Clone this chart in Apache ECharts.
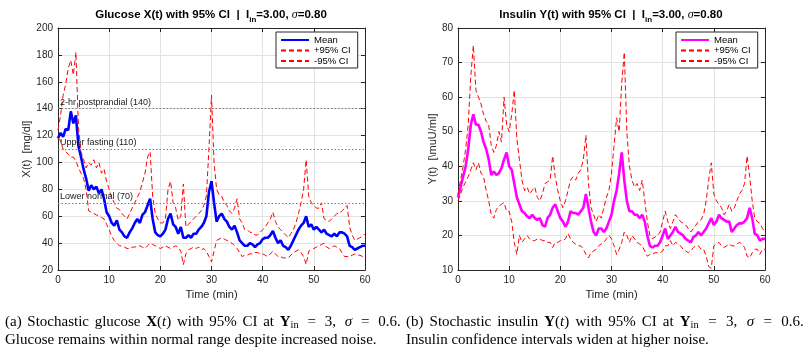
<!DOCTYPE html>
<html>
<head>
<meta charset="utf-8">
<script src="https://cdn.jsdelivr.net/npm/echarts@6/dist/echarts.min.js"></script>
<style>
html, body { margin: 0; padding: 0; background: #fff; }
#chart { width: 810px; height: 354px; }
</style>
</head>
<body>
<div id="chart"></div>
<script>
// sampling times (min)
var timeMin = [
  0, 0.5, 1, 1.5, 2, 2.5, 3, 3.5, 4, 4.5,
  5, 5.5, 6, 6.5, 7, 7.5, 8, 8.5, 9, 9.5,
  10, 10.5, 11, 11.5, 12, 12.5, 13, 13.5, 14, 14.5,
  15, 15.5, 16, 16.5, 17, 17.5, 18, 18.5, 19, 19.5,
  20, 20.5, 21, 21.5, 22, 22.5, 23, 23.5, 24, 24.5,
  25, 25.5, 26, 26.5, 27, 27.5, 28, 28.5, 29, 29.5,
  30, 30.5, 31, 31.5, 32, 32.5, 33, 33.5, 34, 34.5,
  35, 35.5, 36, 36.5, 37, 37.5, 38, 38.5, 39, 39.5,
  40, 40.5, 41, 41.5, 42, 42.5, 43, 43.5, 44, 44.5,
  45, 45.5, 46, 46.5, 47, 47.5, 48, 48.5, 49, 49.5,
  50, 50.5, 51, 51.5, 52, 52.5, 53, 53.5, 54, 54.5,
  55, 55.5, 56, 56.5, 57, 57.5, 58, 58.5, 59, 59.5,
  60
];

// glucose X(t) [mg/dl]
var glucoseMean = [
  118, 122, 119, 125, 124, 138, 129, 135, 112, 104,
  95, 88, 79, 83, 80, 82, 77, 80, 73, 63,
  60, 55, 53, 57, 50, 48, 45, 44, 48, 51,
  55, 58, 55, 61, 63, 68, 73, 58, 48, 46,
  45, 47, 50, 58, 62, 54, 52, 47, 52, 44,
  44, 46, 44, 47, 47, 50, 52, 55, 60, 78,
  86, 70, 56, 60, 62, 58, 56, 52, 50, 53,
  48, 42, 40, 38, 38, 40, 39, 37, 39, 40,
  43, 44, 44, 46, 49, 44, 40, 42, 38, 37,
  35, 38, 42, 46, 50, 53, 55, 60, 52, 54,
  50, 52, 50, 48, 50, 47, 46, 45, 47, 45,
  48, 48, 47, 45, 38, 37, 35, 36, 37, 38,
  38
];
var glucoseUpper = [
  124, 135, 150, 158, 170, 176, 165, 182, 126, 108,
  102, 96, 100, 98, 102, 96, 100, 92, 95, 86,
  80, 74, 70, 66, 65, 62, 60, 58, 62, 66,
  70, 74, 78, 85, 92, 104, 108, 75, 62, 58,
  55, 55, 58, 80, 86, 70, 66, 57, 60, 84,
  52, 54, 56, 58, 60, 62, 64, 68, 75, 110,
  150, 100, 80, 76, 75, 70, 68, 64, 62, 66,
  73, 58, 55, 50, 50, 48, 48, 46, 46, 48,
  50, 52, 55, 58, 63, 56, 52, 50, 48, 46,
  44, 47, 50, 55, 62, 70, 80, 102, 75, 70,
  68, 66, 66, 70, 58, 57, 56, 58, 60, 62,
  62, 64, 66, 68, 52, 46, 42, 43, 44, 45,
  47
];
var glucoseLower = [
  118, 116, 110, 108, 106, 104, 104, 101, 96, 92,
  88, 80, 64, 63, 62, 61, 60, 59, 58, 54,
  50, 45, 42, 40, 38, 38, 37, 36, 36, 37,
  37, 38, 38, 37, 36, 38, 40, 39, 38, 37,
  36, 37, 38, 37, 36, 37, 38, 37, 34, 24,
  32, 35, 36, 37, 36, 37, 35, 36, 34, 30,
  26, 34, 42, 43, 44, 43, 42, 41, 40, 38,
  36, 33, 30, 31, 31, 32, 32, 33, 33, 32,
  32, 31, 30, 32, 34, 32, 30, 30, 29, 29,
  29, 31, 33, 34, 35, 33, 30, 24, 34, 35,
  36, 37, 38, 39, 40, 37, 36, 37, 38, 37,
  36, 33, 30, 30, 30, 31, 32, 31, 31, 30,
  30
];

// insulin Y(t)
var insulinMean = [
  31, 34, 37, 40, 45, 52, 55, 52, 52, 50,
  47, 45, 42, 37.5, 38.5, 37.5, 38, 39.5, 42, 44,
  40, 39, 35, 31, 29, 27, 26.5, 25.5, 25, 26,
  25, 24.5, 25, 23, 22.5, 25, 26, 28, 29, 27,
  25, 24, 22.5, 24, 27, 26.5, 26.5, 26, 27, 28,
  32, 28, 24, 21, 20, 22, 22, 21, 22, 24,
  26, 30, 33, 38, 44, 36, 30, 27, 27, 26,
  26, 25, 26, 24, 20, 17, 16.5, 17, 17, 18,
  20, 22, 19, 20, 21, 22.5, 21, 20.5, 20, 19,
  18.5, 18, 19.5, 20, 21, 20, 21, 22, 23.5, 25,
  23, 24, 26, 25, 24.5, 24, 24, 21, 22, 23,
  23.5, 23.5, 24, 25, 28, 25, 20.5, 20, 18.5, 19,
  19
];
var insulinUpper = [
  32, 36, 40, 45, 52, 66, 75, 62, 60, 58,
  55, 53, 52, 46, 44, 46, 50, 47, 60, 52,
  50, 55, 62, 48, 42, 36, 33, 34, 32, 33,
  34, 31, 30, 32, 35, 35.5, 36, 43, 37, 33,
  30, 28, 30, 33, 36, 37, 36, 38, 39, 42,
  49, 35, 28, 26, 24, 26, 25, 28, 31, 33,
  38, 46, 54, 50, 64, 73, 50, 40, 36, 34,
  35, 33, 36, 30, 24, 20, 19, 19.5, 20, 21,
  24, 27, 24, 22, 24, 26, 25, 24, 23.5, 23,
  22, 21, 22, 23, 24, 24.5, 26, 30, 36, 41,
  32, 30, 29, 28, 26, 27, 29, 27, 28, 30,
  32, 33, 35, 43, 37, 30, 25, 24, 23.5, 22,
  21
];
var insulinLower = [
  30, 32, 34, 35.5, 37, 39, 41, 39, 41, 38,
  37, 33, 30, 26, 25, 27.5, 28.5, 29, 29.5, 27,
  27, 24, 18, 14.5, 20, 18, 19, 20, 19, 18.5,
  18.5, 19, 19, 18.5, 18.5, 18, 18, 16.5, 18, 18,
  18.5, 18.5, 19, 20.5, 19, 18, 17.5, 17, 17, 16,
  14.5, 13.5, 15, 15.5, 16, 17, 17.5, 18, 19, 20,
  19, 17, 14.5, 16, 18, 21, 20, 18, 20, 19,
  18, 17.5, 17, 15.5, 14, 14.5, 14.5, 15, 15, 15,
  15.5, 17, 17, 18.5, 17, 18, 17.5, 17, 16, 15.5,
  15, 15.5, 16.5, 17, 17, 16, 16, 14, 11, 10.5,
  17, 17.5, 18, 17, 16.5, 17, 17.5, 17, 17, 17.5,
  18, 17.5, 16.5, 14, 13.5, 15, 16, 16, 14.5, 16,
  16
];

// reference levels for glucose
var glucoseRefValues = [140, 110, 70];
var glucoseRefNames = ['2-hr postprandial (140)', 'Upper fasting (110)', 'Lower normal (70)'];

var AX = '#262626';
var SANS = 'Liberation Sans';
var SERIF = 'Liberation Serif';

function pairs(vals) {
    return vals.map(function (v, i) { return [timeMin[i], v]; });
}

function xAxes(g) {
    return [
        {
            type: 'value', gridIndex: g, position: 'bottom', min: 0, max: 60, interval: 10,
            name: 'Time (min)', nameLocation: 'middle', nameGap: 18,
            nameTextStyle: { fontSize: 11, color: AX, fontFamily: SANS },
            axisLine: { show: true, onZero: false, lineStyle: { color: AX, width: 1 } },
            axisTick: { inside: true, length: 4, lineStyle: { color: AX } },
            axisLabel: { fontSize: 10, color: AX, fontFamily: SANS, margin: 5 },
            splitLine: { show: true, lineStyle: { color: '#e2e2e2', width: 1 } }
        },
        {
            type: 'value', gridIndex: g, position: 'top', min: 0, max: 60, interval: 10,
            axisLine: { show: true, onZero: false, lineStyle: { color: AX, width: 1 } },
            axisTick: { inside: true, length: 4, lineStyle: { color: AX } },
            axisLabel: { show: false }, splitLine: { show: false }
        }
    ];
}

function yAxes(g, ymin, ymax, step, label, gap) {
    return [
        {
            type: 'value', gridIndex: g, position: 'left', min: ymin, max: ymax, interval: step,
            name: label, nameLocation: 'middle', nameGap: gap,
            nameTextStyle: { fontSize: 11, color: AX, fontFamily: SANS },
            axisLine: { show: true, onZero: false, lineStyle: { color: AX, width: 1 } },
            axisTick: { show: true, inside: true, length: 4, lineStyle: { color: AX } },
            axisLabel: { fontSize: 10, color: AX, fontFamily: SANS, margin: 5 },
            splitLine: { show: true, lineStyle: { color: '#e2e2e2', width: 1 } }
        },
        {
            type: 'value', gridIndex: g, position: 'right', min: ymin, max: ymax, interval: step,
            axisLine: { show: true, onZero: false, lineStyle: { color: AX, width: 1 } },
            axisTick: { show: true, inside: true, length: 4, lineStyle: { color: AX } },
            axisLabel: { show: false }, splitLine: { show: false }
        }
    ];
}

function lineSeries(name, vals, xi, yi, color, width, dashed) {
    return {
        name: name, type: 'line', xAxisIndex: xi, yAxisIndex: yi,
        data: pairs(vals), symbol: 'none', smooth: false,
        lineStyle: { color: color, width: width, type: dashed ? [5, 3] : 'solid' },
        itemStyle: { color: color }
    };
}

function legendFor(left, tag) {
    return {
        orient: 'vertical', left: left, top: 32,
        data: ['Mean#' + tag, '+95% CI#' + tag, '-95% CI#' + tag],
        formatter: function (n) { return n.split('#')[0]; },
        itemWidth: 28, itemHeight: 12, itemGap: 0.5, itemTextGap: 2,
        padding: [3, 7, 2, 4],
        borderColor: AX, borderWidth: 1, borderRadius: 0, backgroundColor: '#fff',
        selectedMode: false,
        // hide the marker dot, keep only the line sample
        itemStyle: { color: 'rgba(0,0,0,0)', borderWidth: 0, opacity: 0 },
        textStyle: { fontSize: 9.5, color: '#000', fontFamily: SANS }
    };
}

function titleText(x, prefix) {
    return {
        type: 'text', x: x, y: 15,
        style: {
            text: '{t|' + prefix + ' with 95% CI  |  I}{s|in}{t|=3.00, }{g|σ}{t|=0.80}',
            align: 'center', verticalAlign: 'middle',
            rich: {
                t: { fontSize: 11.5, fontWeight: 'bold', fontFamily: SANS, fill: '#000', lineHeight: 18 },
                s: { fontSize: 8, fontWeight: 'bold', fontFamily: SANS, fill: '#000', lineHeight: 8, verticalAlign: 'bottom' },
                g: { fontSize: 12, fontStyle: 'italic', fontFamily: SERIF, fill: '#000', lineHeight: 18 }
            }
        }
    };
}

var capRich = {
    n: { fontSize: 15, fontFamily: SERIF, fill: '#000', lineHeight: 18 },
    b: { fontSize: 15, fontFamily: SERIF, fontWeight: 'bold', fill: '#000', lineHeight: 18 },
    i: { fontSize: 15, fontFamily: SERIF, fontStyle: 'italic', fill: '#000', lineHeight: 18 },
    s: { fontSize: 10.5, fontFamily: SERIF, fill: '#000', lineHeight: 9, verticalAlign: 'bottom' },
    w: { fontSize: 15, fontFamily: SERIF, lineHeight: 18, width: 5.7 },
    m: { fontSize: 15, fontFamily: SERIF, lineHeight: 18, width: 8.8 },
    w2: { fontSize: 15, fontFamily: SERIF, lineHeight: 18, width: 6.1 },
    m2: { fontSize: 15, fontFamily: SERIF, lineHeight: 18, width: 9.4 }
};

function caption(x, y, text) {
    return {
        type: 'text', x: x, y: y,
        style: { text: text, align: 'left', verticalAlign: 'middle', rich: capRich }
    };
}

var gSeries = [
    lineSeries('Mean#g', glucoseMean, 0, 0, '#0000ff', 2.6, false),
    lineSeries('+95% CI#g', glucoseUpper, 0, 0, '#ff0000', 1, true),
    lineSeries('-95% CI#g', glucoseLower, 0, 0, '#ff0000', 1, true)
];
gSeries[0].markLine = {
    silent: true, symbol: 'none', animation: false,
    lineStyle: { color: '#7a7a7a', type: [1.5, 2], width: 1 },
    label: {
        show: true, position: 'insideStartTop', formatter: '{b}', distance: 2,
        fontSize: 9, color: '#1a1a1a', fontFamily: SANS
    },
    data: glucoseRefValues.map(function (v, i) { return { yAxis: v, name: glucoseRefNames[i] }; })
};

var iSeries = [
    lineSeries('Mean#i', insulinMean, 2, 2, '#ff00ff', 2.6, false),
    lineSeries('+95% CI#i', insulinUpper, 2, 2, '#ff0000', 1, true),
    lineSeries('-95% CI#i', insulinLower, 2, 2, '#ff0000', 1, true)
];

var myChart = echarts.init(document.getElementById('chart'));

var option = {
    animation: false,
    backgroundColor: '#fff',
    grid: [
        { left: 58, top: 28, width: 307, height: 242 },
        { left: 458, top: 28, width: 307, height: 242 }
    ],
    xAxis: xAxes(0).concat(xAxes(1)),
    yAxis: yAxes(0, 20, 200, 20, 'X(t)  [mg/dl]', 24).concat(yAxes(1, 10, 80, 10, 'Y(t)  [\\muU/ml]', 18)),
    legend: [legendFor(276, 'g'), legendFor(676, 'i')],
    series: gSeries.concat(iSeries),
    graphic: [
        titleText(211, 'Glucose X(t)'),
        titleText(611, 'Insulin Y(t)'),
        caption(5, 322, '{n|(a)}{w| }{n|Stochastic}{w| }{n|glucose}{w| }{b|X}{n|(}{i|t}{n|)}{w| }{n|with}{w| }{n|95%}{w| }{n|CI}{w| }{n|at}{w| }{b|Y}{s|in}{m| }{n|=}{m| }{n|3,}{m| }{i|σ}{m| }{n|=}{m| }{n|0.6.}'),
        caption(5, 340, '{n|Glucose remains within normal range despite increased noise.}'),
        caption(406, 322, '{n|(b)}{w2| }{n|Stochastic}{w2| }{n|insulin}{w2| }{b|Y}{n|(}{i|t}{n|)}{w2| }{n|with}{w2| }{n|95%}{w2| }{n|CI}{w2| }{n|at}{w2| }{b|Y}{s|in}{m2| }{n|=}{m2| }{n|3,}{m2| }{i|σ}{m2| }{n|=}{m2| }{n|0.6.}'),
        caption(406, 340, '{n|Insulin confidence intervals widen at higher noise.}')
    ]
};

myChart.setOption(option);
</script>
</body>
</html>
